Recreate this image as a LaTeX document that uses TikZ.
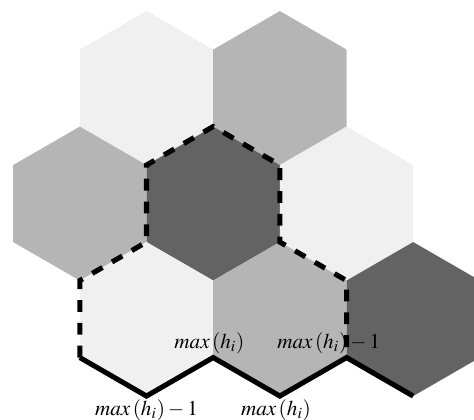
\documentclass[tikz,border=0pt]{standalone}
\usepackage{mathptmx}
\usetikzlibrary{shapes.geometric}

\definecolor{celllight}{gray}{0.94}
\definecolor{cellmid}{gray}{0.71}
\definecolor{celldark}{gray}{0.39}

\begin{document}
\begin{tikzpicture}[
    cell/.style={regular polygon, regular polygon sides=6, shape border rotate=30,
                 minimum size=3.2cm, inner sep=0pt, outer sep=0pt},
    lightcell/.style={cell, fill=celllight},
    midcell/.style={cell, fill=cellmid},
    darkcell/.style={cell, fill=celldark},
    bound/.style={line width=3pt, line join=miter},
    lbl/.style={font=\fontsize{12.5}{15}\selectfont, inner sep=2pt}
]
\clip (-4.43,-4.48) rectangle (5.42,4.23);
% half width of a cell and row spacing
\def\hw{1.3856}
\def\rs{2.4}
\node[lightcell] (h1) at (-\hw, \rs)   {};
\node[midcell]   (h2) at ( \hw, \rs)   {};
\node[midcell]   (h3) at (-2*\hw, 0)   {};
\node[darkcell]  (h4) at (0,0)         {};
\node[lightcell] (h5) at (2*\hw, 0)    {};
\node[lightcell] (h6) at (-\hw,-\rs)   {};
\node[midcell]   (h7) at ( \hw,-\rs)   {};
\node[darkcell]  (h8) at (3*\hw,-\rs)  {};

\draw[bound] (h6.210) -- (h6.270) -- (h6.330) -- (h7.270) -- (h7.330) -- (h8.270);

\node[lbl, above, xshift=-0.08cm] (ta) at (h7.210) {$max\,(h_i)$};
\node[lbl, above, xshift=-0.37cm] (tb) at (h7.330) {$max\,(h_i)-1$};
\node[lbl, below]                 (tc) at (h6.270) {$max\,(h_i)-1$};
\node[lbl, below, xshift=-0.08cm] (td) at (h7.270) {$max\,(h_i)$};

\draw[bound, dash pattern=on 7pt off 6.5pt]
    (h6.210) -- (h6.150) -- (h6.90) -- (h4.150) -- (h4.90) -- (h4.30)
    -- (h4.330) -- (h7.30) -- (h7.330);
\end{tikzpicture}
\end{document}
